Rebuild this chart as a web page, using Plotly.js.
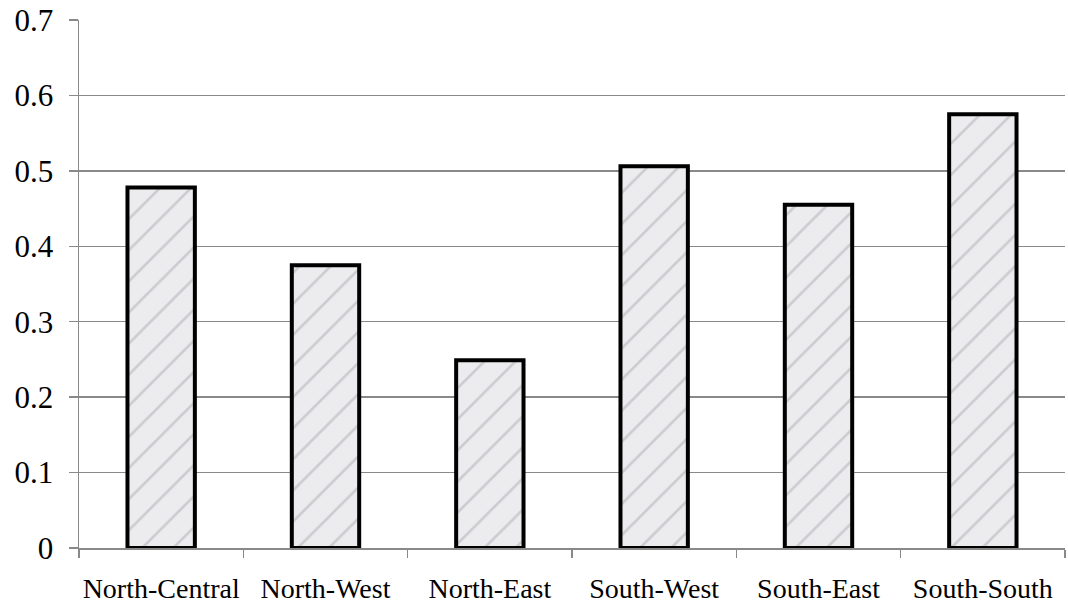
<!DOCTYPE html>
<html>
<head>
<meta charset="utf-8">
<script src="https://cdn.plot.ly/plotly-3.0.1.min.js"></script>
<style>html,body{margin:0;padding:0;background:#fff;}#chart{width:1068px;height:610px;}</style>
</head>
<body>
<div id="chart"></div>
<script>
const regions = ["North-Central", "North-West", "North-East", "South-West", "South-East", "South-South"];
const values = [0.478, 0.375, 0.249, 0.506, 0.455, 0.575];
const yTicks = [0, 0.1, 0.2, 0.3, 0.4, 0.5, 0.6, 0.7];
const yTickLabels = ["0", "0.1", "0.2", "0.3", "0.4", "0.5", "0.6", "0.7"];

const trace = {
  type: 'bar',
  x: regions,
  y: values,
  width: 0.41,
  marker: {
    color: '#e9e9eb',
    line: {color: '#000000', width: 4},
    pattern: {shape: '/', fgcolor: '#b8b8bd', bgcolor: '#ececee', fgopacity: 0.6, size: 22, solidity: 0.12}
  },
  hoverinfo: 'x+y'
};

const layout = {
  width: 1068, height: 610,
  margin: {l: 79, r: 3, t: 20, b: 62},
  paper_bgcolor: '#ffffff', plot_bgcolor: '#ffffff',
  showlegend: false,
  bargap: 0.59,
  font: {family: '"Liberation Serif", "Times New Roman", serif', color: '#000000'},
  xaxis: {
    type: 'category',
    showgrid: false,
    showline: true, linecolor: '#898989', linewidth: 1.5,
    ticks: 'outside', tickson: 'boundaries', ticklen: 8, tickcolor: '#898989', tickwidth: 1.5,
    tickfont: {size: 28, family: '"Liberation Serif", serif', color: '#000'},
    tickangle: 0,
    ticklabelstandoff: 15,
    zeroline: false, fixedrange: true
  },
  yaxis: {
    range: [0, 0.7],
    tickvals: yTicks, ticktext: yTickLabels,
    showgrid: true, gridcolor: '#898989', gridwidth: 1.5,
    showline: true, linecolor: '#898989', linewidth: 1.5,
    ticks: 'outside', ticklen: 9, tickcolor: '#898989', tickwidth: 1.5,
    tickfont: {size: 31, family: '"Liberation Serif", serif', color: '#000'},
    ticklabelstandoff: 9,
    zeroline: false, fixedrange: true
  }
};

Plotly.newPlot('chart', [trace], layout, {displayModeBar: false, staticPlot: true});
</script>
</body>
</html>
